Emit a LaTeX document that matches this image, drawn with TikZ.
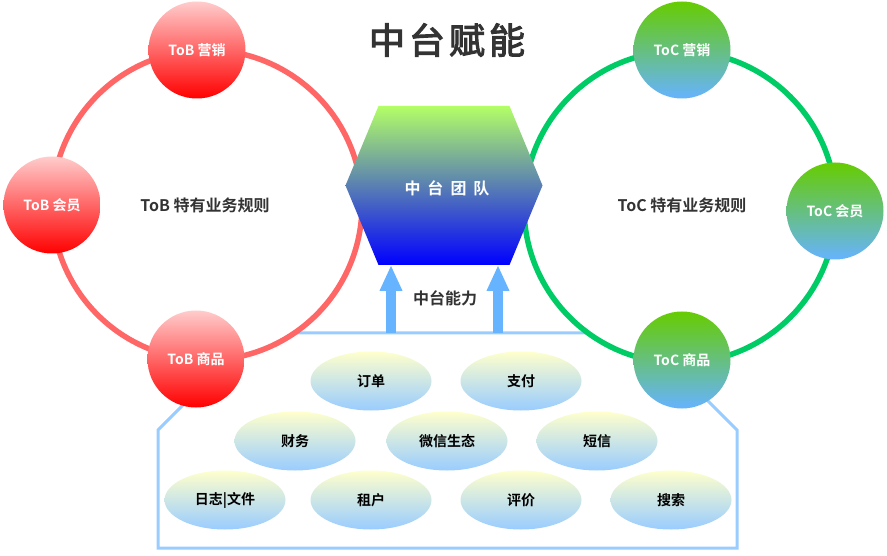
\documentclass[tikz,border=0pt]{standalone}
\usepackage{fontspec}
\setmainfont{Noto Sans CJK SC}[BoldFont={Noto Sans CJK SC Bold}]
\newfontfamily\titlefont{Noto Sans CJK SC}[FakeBold=3]
\usetikzlibrary{shapes.geometric,arrows.meta,calc}
\definecolor{tobring}{HTML}{FF6666}
\definecolor{tocring}{HTML}{00CC66}
\definecolor{pinklight}{HTML}{FFCCCC}
\definecolor{tocgreen}{HTML}{66CC00}
\definecolor{skyblue}{HTML}{66B3FF}
\definecolor{boxblue}{HTML}{99CCFF}
\definecolor{lemon}{HTML}{FFFFCC}
\definecolor{teamgreen}{HTML}{B3FF66}
\definecolor{darktext}{HTML}{333333}
\tikzset{
  ring/.style={line width=5.5pt, fill=white},
  tobnode/.style={circle, minimum size=97pt, inner sep=0pt,
    top color=pinklight, bottom color=red, text=white,
    font=\fontsize{14}{16}\selectfont\bfseries},
  tocnode/.style={tobnode, top color=tocgreen, bottom color=skyblue},
  ability/.style={ellipse, minimum width=121pt, minimum height=59pt, inner sep=0pt,
    top color=lemon, bottom color=boxblue, text=black,
    font=\fontsize{14}{16}\selectfont\bfseries},
  rule/.style={text=darktext, font=\fontsize{16}{18}\selectfont\bfseries},
  uparrow/.style={draw=skyblue, line width=10.5pt, -{Triangle[width=21pt,length=26pt]}},
}
\begin{document}
\begin{tikzpicture}[x=1pt, y=-1pt]
  \useasboundingbox (0,0) rectangle (887,556);
  % box of capabilities
  \draw[boxblue, line width=3pt, line join=miter] (158,548) -- (158,430) -- (255,333)
    -- (640,333) -- (737,430) -- (737,548) -- cycle;
  % rule rings
  \draw[ring, draw=tobring] (207,205) circle[radius=155];
  \draw[ring, draw=tocring] (680,207) circle[radius=156];
  \node[text=darktext, font=\titlefont\fontsize{36}{40}\selectfont] (title) at (447,40)
    {中\kern4pt 台\kern4pt 赋\kern4pt 能};
  \node[rule] (tobrule) at (205,205) {ToB 特有业务规则};
  \node[rule] (tocrule) at (682,205) {ToC 特有业务规则};
  % team hexagon
  \node[minimum width=131pt, minimum height=159pt, inner sep=0pt, outer sep=0pt] (team) at (444,185.5) {};
  \shade[top color=teamgreen, bottom color=blue] (team.north west) -- (team.north east)
    -- ($(team.east)+(33,0)$) -- (team.south east) -- (team.south west)
    -- ($(team.west)+(-33,0)$) -- cycle;
  \node[text=white, font=\fontsize{16}{18}\selectfont\bfseries] (teamtext) at (447,188)
    {中\hspace{7pt}台\hspace{7pt}团\hspace{7pt}队};
  % capability arrows
  \coordinate (feedL) at (391,333);
  \coordinate (feedR) at (498,333);
  \draw[uparrow] (feedL) -- (feedL |- team.south);
  \draw[uparrow] (feedR) -- (feedR |- team.south);
  \node[rule] (power) at (445,298) {中台能力};
  % ToB and ToC nodes
  \node[tobnode] (tobsale) at (197,50) {ToB 营销};
  \node[tobnode] (tobvip) at (52,205) {ToB 会员};
  \node[tobnode] (tobgoods) at (196,359) {ToB 商品};
  \node[tocnode] (tocsale) at (682,50) {ToC 营销};
  \node[tocnode] (tocvip) at (835,211) {ToC 会员};
  \node[tocnode] (tocgoods) at (682,360) {ToC 商品};
  % capabilities
  \node[ability] (order) at (371,381) {订单};
  \node[ability] (pay) at (521,381) {支付};
  \node[ability] (finance) at (295,441) {财务};
  \node[ability] (wechat) at (447,441) {微信生态};
  \node[ability] (sms) at (597,441) {短信};
  \node[ability] (logfile) at (225,500) {日志|文件};
  \node[ability] (tenant) at (371,500) {租户};
  \node[ability] (review) at (521,500) {评价};
  \node[ability] (search) at (671,500) {搜索};
\end{tikzpicture}
\end{document}
